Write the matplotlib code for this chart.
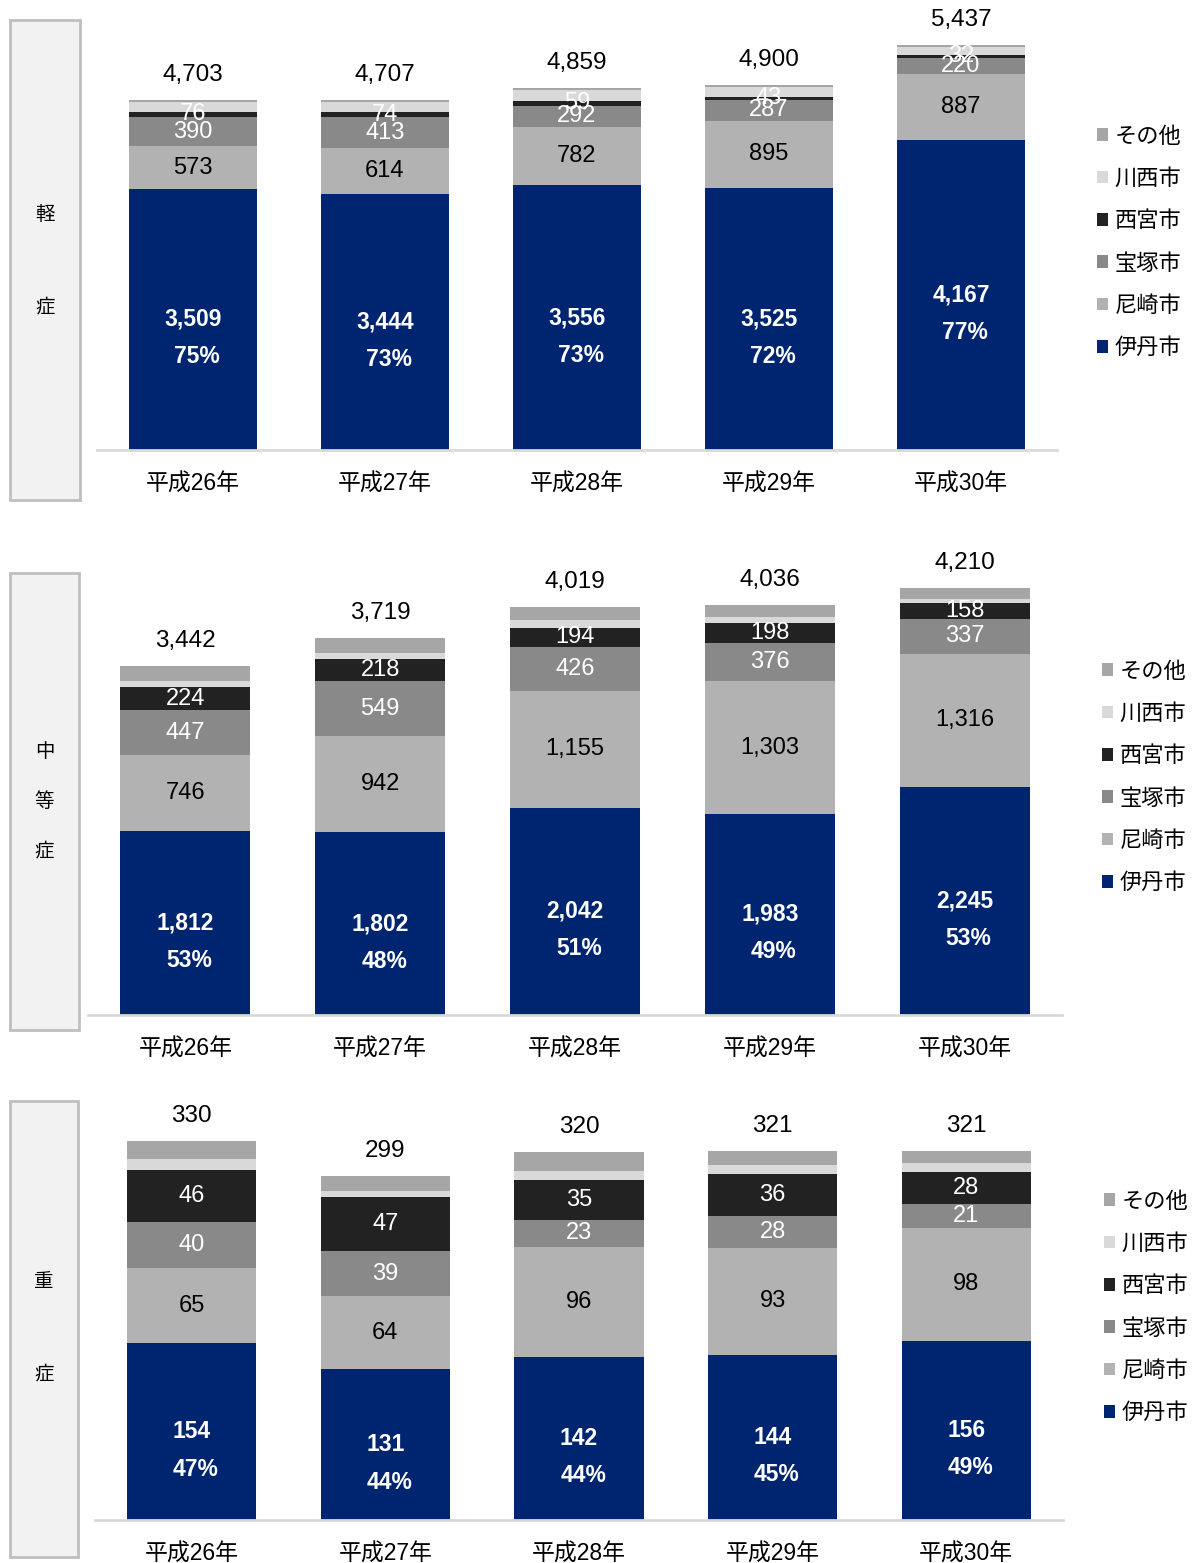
import matplotlib
matplotlib.use("Agg")
import matplotlib.pyplot as plt
from matplotlib.patches import Rectangle

plt.rcParams['font.family'] = ['Liberation Sans', 'Noto Sans CJK JP', 'DejaVu Sans']

years = ["平成26年", "平成27年", "平成28年", "平成29年", "平成30年"]
series = ["伊丹市", "尼崎市", "宝塚市", "西宮市", "川西市", "その他"]
colors = ["#002570", "#b2b2b2", "#898989", "#222222", "#d9d9d9", "#a6a6a6"]
label_colors = ["white", "black", "white", "white", None, None]

# 軽症
mild_itami = [3509, 3444, 3556, 3525, 4167]
mild_amagasaki = [573, 614, 782, 895, 887]
mild_takarazuka = [390, 413, 292, 287, 220]
mild_nishinomiya = [76, 74, 59, 43, 32]
mild_kawanishi = [125, 132, 150, 135, 106]
mild_other = [30, 30, 20, 15, 25]

# 中等症
mid_itami = [1812, 1802, 2042, 1983, 2245]
mid_amagasaki = [746, 942, 1155, 1303, 1316]
mid_takarazuka = [447, 549, 426, 376, 337]
mid_nishinomiya = [224, 218, 194, 198, 158]
mid_kawanishi = [65, 60, 77, 58, 46]
mid_other = [148, 148, 125, 118, 108]

# 重症
sev_itami = [154, 131, 142, 144, 156]
sev_amagasaki = [65, 64, 96, 93, 98]
sev_takarazuka = [40, 39, 23, 28, 21]
sev_nishinomiya = [46, 47, 35, 36, 28]
sev_kawanishi = [9, 5, 8, 8, 8]
sev_other = [16, 13, 16, 12, 10]

W, H = 1203, 1563
fig = plt.figure(figsize=(W / 100, H / 100), dpi=100)

panels = [
    dict(title="軽症", data=[mild_itami, mild_amagasaki, mild_takarazuka, mild_nishinomiya, mild_kawanishi, mild_other],
         ax_px=(97, 1057, 450), ymax=5800, scale=0.0744,
         box=(10, 80, 20, 500), title_y=[215, 307], leg=(1097, 243)),
    dict(title="中等症", data=[mid_itami, mid_amagasaki, mid_takarazuka, mid_nishinomiya, mid_kawanishi, mid_other],
         ax_px=(88, 1062, 1015), ymax=4600, scale=0.1015,
         box=(10, 79, 573, 1030), title_y=[752, 802, 851], leg=(1102, 778)),
    dict(title="重症", data=[sev_itami, sev_amagasaki, sev_takarazuka, sev_nishinomiya, sev_kawanishi, sev_other],
         ax_px=(95, 1063, 1520), ymax=380, scale=1.149,
         box=(10, 78, 1101, 1557), title_y=[1283, 1374], leg=(1104, 1308)),
]

for p in panels:
    x0, x1, base = p["ax_px"]
    hpx = p["ymax"] * p["scale"]
    ax = fig.add_axes([x0 / W, (H - base) / H, (x1 - x0) / W, hpx / H])
    x = range(len(years))
    bottoms = [0] * len(years)
    handles = []
    for k, vals in enumerate(p["data"]):
        b = ax.bar(x, vals, bottom=bottoms, width=0.667, color=colors[k], label=series[k])
        handles.append(b)
        for i, v in enumerate(vals):
            yc = bottoms[i] + v / 2
            if k == 0:
                total = sum(d[i] for d in p["data"])
                ax.text(i, yc, f"{v:,}", ha="center", va="center", color="white",
                        fontsize=16.5, fontweight="bold")
                ax.annotate(f"{round(v / total * 100)}%", (i, yc), xytext=(3, -27),
                            textcoords="offset points", ha="center", va="center",
                            color="white", fontsize=16.5, fontweight="bold")
            elif label_colors[k] is not None:
                ax.text(i, yc, f"{v:,}", ha="center", va="center", color=label_colors[k],
                        fontsize=17)
        bottoms = [bottoms[i] + vals[i] for i in range(len(years))]
    for i, t in enumerate(bottoms):
        ax.annotate(f"{t:,}", (i, t), xytext=(0, 18), textcoords="offset points",
                    ha="center", va="center", fontsize=17.5)

    ax.set_xlim(-0.5, len(years) - 0.5)
    ax.set_ylim(0, p["ymax"])
    ax.set_yticks([])
    ax.set_xticks(list(x))
    ax.set_xticklabels(years, fontsize=16.5)
    ax.tick_params(axis="x", length=0, pad=16)
    for s in ["top", "right", "left"]:
        ax.spines[s].set_visible(False)
    ax.spines["bottom"].set_color("#d9d9d9")
    ax.spines["bottom"].set_linewidth(2)

    bx0, bx1, by0, by1 = p["box"]
    fig.patches.append(Rectangle((bx0 / W, (H - by1) / H), (bx1 - bx0) / W, (by1 - by0) / H,
                                 transform=fig.transFigure, facecolor="#f2f2f2",
                                 edgecolor="#bfbfbf", linewidth=2))
    for c, ty in zip(p["title"], p["title_y"]):
        fig.text((bx0 + bx1) / 2 / W, (H - ty) / H, c, ha="center", va="center", fontsize=14)

    lx, ly = p["leg"]
    ax.legend(handles[::-1], series[::-1], loc="center left",
              bbox_to_anchor=(lx / W, (H - ly) / H), bbox_transform=fig.transFigure,
              frameon=False, fontsize=16, handlelength=0.5, handleheight=0.5,
              handletextpad=0.3, labelspacing=0.96, borderpad=0, borderaxespad=0)

fig.savefig("out.png", dpi=100)
